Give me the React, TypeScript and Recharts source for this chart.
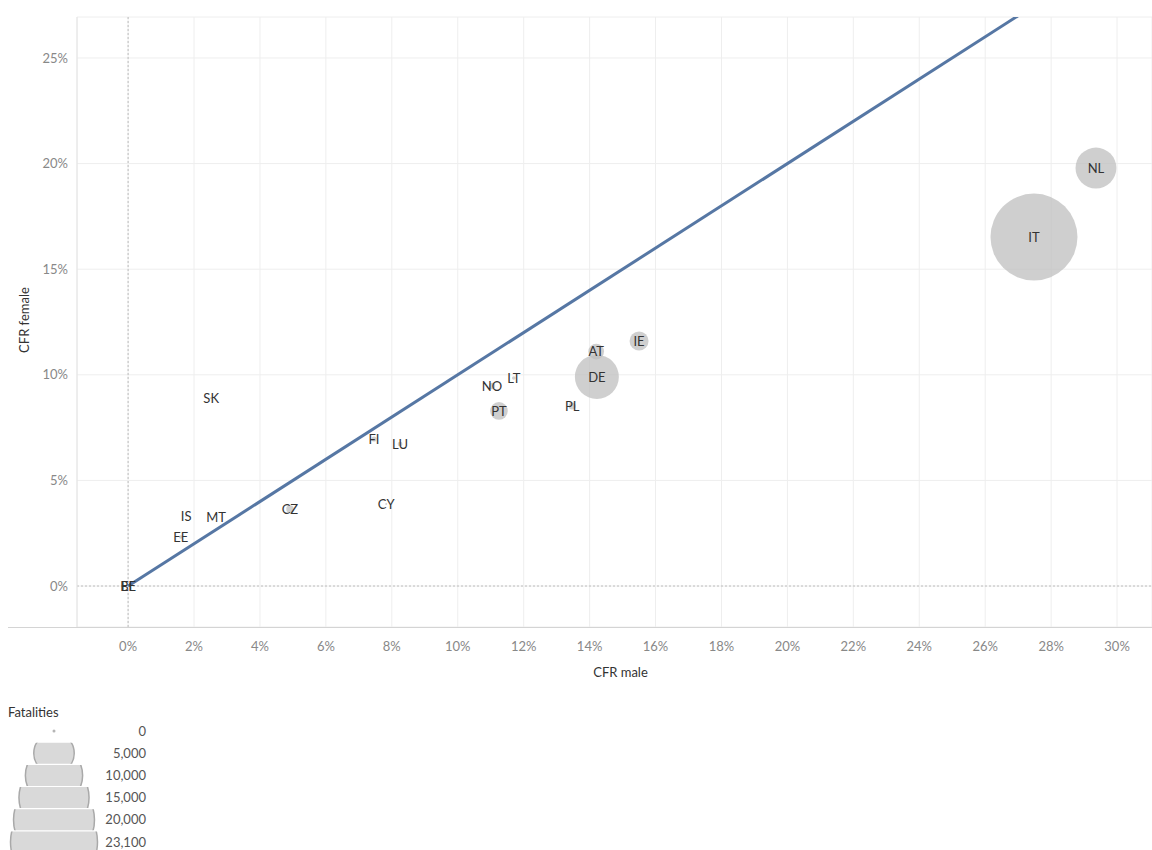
import React from 'react';
import {
  CartesianGrid,
  LabelList,
  ReferenceLine,
  Scatter,
  ScatterChart,
  XAxis,
  YAxis,
  ZAxis,
} from 'recharts';

// Country codes with case fatality rates by sex and total fatalities
const codes = ['IT', 'NL', 'DE', 'IE', 'AT', 'PT', 'NO', 'LT', 'PL', 'FI', 'LU', 'CY', 'CZ', 'SK', 'IS', 'MT', 'EE', 'BE', 'EL'];
const cfrMale = [0.2748, 0.2936, 0.1422, 0.155, 0.142, 0.1125, 0.1104, 0.117, 0.1347, 0.0746, 0.0825, 0.0783, 0.0491, 0.0252, 0.0176, 0.0267, 0.016, 0, 0];
const cfrFemale = [0.1652, 0.1979, 0.099, 0.116, 0.111, 0.0829, 0.0947, 0.0985, 0.0852, 0.0696, 0.0672, 0.0388, 0.0365, 0.089, 0.0331, 0.0327, 0.0232, 0, 0];
const fatalities = [23100, 5100, 5900, 1100, 750, 950, 120, 40, 150, 80, 70, 12, 170, 15, 9, 4, 40, 0, 0];

const xTicks = [0, 0.02, 0.04, 0.06, 0.08, 0.1, 0.12, 0.14, 0.16, 0.18, 0.2, 0.22, 0.24, 0.26, 0.28, 0.3];
const yTicks = [0, 0.05, 0.1, 0.15, 0.2, 0.25];
const legendValues = [0, 5000, 10000, 15000, 20000, 23100];
const legendLabels = ['0', '5,000', '10,000', '15,000', '20,000', '23,100'];
const diagonal = [{ x: 0, y: 0 }, { x: 0.31, y: 0.31 }];

const maxFatalities = 23100;
const maxRadius = 43.5;

const data = codes.map((code, i) => ({
  code,
  male: cfrMale[i],
  female: cfrFemale[i],
  fatalities: fatalities[i],
}));

const pct = (v: number) => `${Math.round(v * 100)}%`;
const radiusFor = (v: number) => maxRadius * Math.sqrt(v / maxFatalities);

const FatalitiesLegend = () => {
  const cx = 54;
  const rowY = (i: number) => 731 + i * 22.2;
  return (
    <svg width={200} height={160} style={{ position: 'absolute', left: 0, top: 690 }}>
      <text x={8} y={712 - 690} dy="0.35em" fontSize={13} fill="#333">Fatalities</text>
      <defs>
        {legendValues.map((v, i) => (
          <clipPath key={v} id={`legend-band-${i}`}>
            <rect x={0} y={rowY(i) - 690 - 10.5} width={120} height={21} />
          </clipPath>
        ))}
      </defs>
      {legendValues.map((v, i) => {
        const y = rowY(i) - 690;
        const r = radiusFor(v);
        return (
          <g key={v}>
            {v === 0 ? (
              <circle cx={cx} cy={y} r={1.5} fill="#b5b5b5" />
            ) : (
              <circle
                cx={cx}
                cy={y}
                r={r}
                fill="#d9d9d9"
                stroke="#a9a9a9"
                strokeWidth={1.5}
                clipPath={`url(#legend-band-${i})`}
              />
            )}
            <text x={146} y={y} dy="0.35em" textAnchor="end" fontSize={13} fill="#555">
              {legendLabels[i]}
            </text>
          </g>
        );
      })}
    </svg>
  );
};

export default function App() {
  return (
    <div style={{ position: 'absolute', left: 0, top: 0, width: 1152, height: 850, fontFamily: 'Lato, sans-serif', background: '#fff' }}>
      <ScatterChart width={1152} height={690} margin={{ top: 17, right: 0, left: 0, bottom: 0 }}>
        <CartesianGrid stroke="#eeeeee" strokeWidth={1} />
        <XAxis
          type="number"
          dataKey="male"
          domain={[-0.0155, 0.3106]}
          allowDataOverflow
          ticks={xTicks}
          tickFormatter={pct}
          tick={{ fontSize: 13, fill: '#888' }}
          tickSize={0}
          tickMargin={15}
          axisLine={false}
          height={63}
          label={{ value: 'CFR male', position: 'insideBottom', offset: 13, dx: 6, style: { fontSize: 13, fill: '#333' } }}
        />
        <YAxis
          type="number"
          dataKey="female"
          domain={[-0.0194, 0.2694]}
          allowDataOverflow
          ticks={yTicks}
          tickFormatter={pct}
          tick={{ fontSize: 13, fill: '#888' }}
          tickSize={0}
          tickMargin={9}
          axisLine={{ stroke: '#e4e4e4' }}
          width={77}
          label={{
            value: 'CFR female',
            angle: -90,
            position: 'insideLeft',
            offset: 24,
            dy: -2,
            style: { textAnchor: 'middle', fontSize: 13, fill: '#333' },
          }}
        />
        <ZAxis type="number" dataKey="fatalities" domain={[0, maxFatalities]} range={[0, Math.PI * maxRadius * maxRadius]} />
        <ReferenceLine x={0} stroke="#bdbdbd" strokeDasharray="2 2" />
        <ReferenceLine y={0} stroke="#bdbdbd" strokeDasharray="2 2" />
        <ReferenceLine segment={diagonal} stroke="#5677a4" strokeWidth={3} ifOverflow="hidden" />
        <Scatter data={data} fill="#bdbdbd" fillOpacity={0.72} isAnimationActive={false}>
          <LabelList dataKey="code" position="center" fill="#333" fontSize={13} />
        </Scatter>
      </ScatterChart>
      <div style={{ position: 'absolute', left: 8, top: 627, width: 1144, height: 1, background: '#d4d4d4' }} />
      <FatalitiesLegend />
    </div>
  );
}
